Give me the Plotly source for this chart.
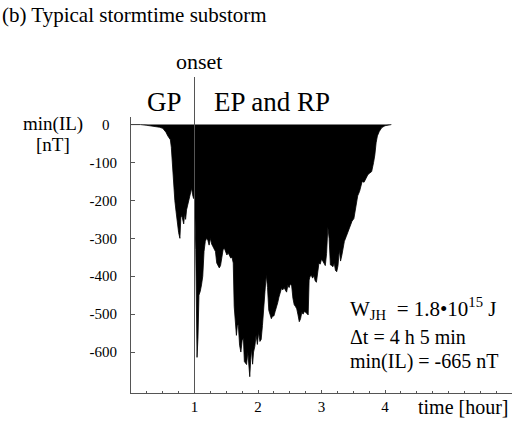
import plotly.graph_objects as go

# Substorm time profile: hours since start vs min(IL) [nT]
time_h = [
    0.00, 0.15, 0.25, 0.35, 0.45, 0.50, 0.55, 0.58, 0.62, 0.635, 0.645, 0.66, 0.67,
    0.69, 0.71, 0.73, 0.75, 0.77, 0.785, 0.80, 0.815, 0.83, 0.845, 0.86, 0.875,
    0.89, 0.905, 0.92, 0.94, 0.955, 0.97, 0.985, 1.00, 1.02, 1.04, 1.055, 1.07,
    1.09, 1.11, 1.13, 1.15, 1.17, 1.19, 1.21, 1.23, 1.25, 1.27, 1.29, 1.31, 1.33,
    1.35, 1.37, 1.39, 1.41, 1.43, 1.45, 1.47, 1.49, 1.51, 1.53, 1.55, 1.57, 1.59,
    1.61, 1.625, 1.64, 1.66, 1.675, 1.69, 1.71, 1.73, 1.75, 1.77, 1.785, 1.80,
    1.82, 1.84, 1.86, 1.87, 1.885, 1.90, 1.915, 1.93, 1.95, 1.97, 1.99, 2.01,
    2.03, 2.05, 2.07, 2.09, 2.11, 2.13, 2.15, 2.17, 2.19, 2.21, 2.23, 2.25, 2.27,
    2.29, 2.31, 2.33, 2.35, 2.37, 2.39, 2.41, 2.43, 2.45, 2.47, 2.49, 2.51, 2.53,
    2.55, 2.57, 2.59, 2.61, 2.63, 2.65, 2.67, 2.69, 2.71, 2.73, 2.75, 2.77, 2.79,
    2.805, 2.82, 2.84, 2.86, 2.88, 2.90, 2.92, 2.94, 2.96, 2.98, 3.00, 3.02, 3.04,
    3.06, 3.08, 3.10, 3.12, 3.14, 3.16, 3.18, 3.20, 3.22, 3.24, 3.26, 3.28, 3.30,
    3.32, 3.34, 3.36, 3.39, 3.42, 3.45, 3.48, 3.51, 3.53, 3.55, 3.57, 3.60, 3.62,
    3.64, 3.67, 3.70, 3.73, 3.76, 3.79, 3.82, 3.84, 3.86, 3.88, 3.91, 3.95, 4.00,
    4.10,
]
il_nT = [
    0, 0, -2, -4, -7, -10, -20, -30, -40, -60, -90, -140, -170,
    -200, -230, -260, -285, -300, -245, -240, -248, -262, -235, -250, -225,
    -215, -205, -195, -180, -168, -185, -195, -190, -330, -614, -560, -450,
    -440, -423, -400, -335, -308, -300, -305, -318, -300, -315, -322, -326, -335,
    -365, -372, -378, -372, -345, -330, -326, -336, -344, -338, -348, -352, -350,
    -365, -480, -515, -556, -530, -528, -582, -600, -570, -562, -625, -628,
    -633, -600, -640, -665, -620, -590, -632, -600, -585, -555, -580, -548,
    -572, -567, -530, -470, -440, -396, -430, -490, -500, -512, -505, -505, -493,
    -484, -470, -455, -440, -432, -436, -430, -436, -442, -424, -430, -420, -425,
    -458, -475, -480, -486, -502, -520, -512, -495, -500, -493, -495, -500, -502,
    -410, -400, -398, -405, -398, -412, -416, -380, -365, -368, -355, -360, -368,
    -372, -340, -270, -300, -370, -372, -375, -365, -385, -388, -372, -330, -360,
    -345, -320, -308, -295, -280, -265, -255, -248, -230, -210, -188, -176, -160,
    -150, -152, -140, -132, -128, -124, -100, -80, -48, -30, -18, -8, -3,
    0,
]

x_ticks = [1, 2, 3, 4]
y_ticks = [-100, -200, -300, -400, -500, -600]
onset_h = 1.0

SERIF = "Liberation Serif"
W, H = 520, 426
L, R, T, B = 131, 8, 117, 33


def px(x):
    return (x - L) / (W - L - R)


def py(y):
    return (H - B - y) / (H - T - B)


fig = go.Figure()
fig.add_trace(go.Scatter(
    x=time_h, y=il_nT, mode="lines", fill="tozeroy",
    line=dict(color="black", width=0.8), fillcolor="black",
    hoverinfo="skip", showlegend=False,
))

# onset marker line
fig.add_shape(type="line", xref="x", yref="paper", x0=onset_h, x1=onset_h,
              y0=0, y1=py(77), line=dict(color="#555", width=1))

anns = [
    dict(text="(b) Typical stormtime substorm", x=px(0), y=py(15),
         xanchor="left", size=21),
    dict(text="onset", x=px(199), y=py(61), size=22),
    dict(text="GP", x=px(164), y=py(102), size=27),
    dict(text="EP and RP", x=px(271.5), y=py(102), size=27),
    dict(text="min(IL)", x=px(53), y=py(124), size=19),
    dict(text="[nT]", x=px(52.5), y=py(144), size=19),
    dict(text="0", x=px(106), y=py(125), size=15),
    dict(text="time [hour]", x=px(463), y=py(407), size=20),
    dict(text="W<sub>JH</sub>\u00a0 = 1.8\u202210<sup>15</sup> J", x=px(348),
         y=py(308), xanchor="left", size=21),
    dict(text="\u0394t = 4 h 5 min", x=px(348), y=py(337), xanchor="left", size=20),
    dict(text="min(IL) = -665 nT", x=px(348), y=py(361), xanchor="left", size=20),
]
for a in anns:
    fig.add_annotation(
        text=a["text"], x=a["x"], y=a["y"], xref="paper", yref="paper",
        xanchor=a.get("xanchor", "center"), yanchor="middle", showarrow=False,
        font=dict(family=SERIF, size=a["size"], color="black"),
    )

fig.update_layout(
    width=W, height=H,
    margin=dict(l=L, r=R, t=T, b=B, pad=0),
    paper_bgcolor="white", plot_bgcolor="white",
    font=dict(family=SERIF, color="black"),
    xaxis=dict(
        range=[0, 6], showline=True, linecolor="#555", linewidth=1,
        showgrid=False, zeroline=False, ticks="inside", ticklen=3,
        tickcolor="#555", tickvals=x_ticks, ticktext=[str(v) for v in x_ticks],
        tickfont=dict(family=SERIF, size=15, color="black"),
        minor=dict(dtick=0.25, tick0=0, ticks="inside", ticklen=2, tickcolor="#555"),
    ),
    yaxis=dict(
        range=[-708, 20], showline=True, linecolor="#555", linewidth=1,
        showgrid=False, zeroline=False, ticks="inside", ticklen=4,
        tickcolor="#555", tickvals=y_ticks, ticktext=[str(v) for v in y_ticks],
        tickfont=dict(family=SERIF, size=15, color="black"),
        ticklabelstandoff=10,
    ),
)

fig.write_html("out.html")
